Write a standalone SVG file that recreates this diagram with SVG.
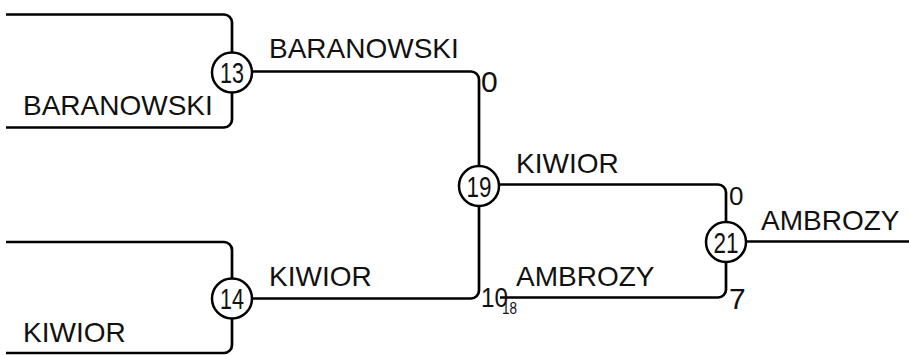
<svg xmlns="http://www.w3.org/2000/svg" width="909" height="355" viewBox="0 0 909 355">
<style>
.ln{fill:none;stroke:#000;stroke-width:2.7;stroke-linecap:butt}
.nd{fill:#fff;stroke:#000;stroke-width:2.5}
.nm{font-family:"Liberation Sans",Arial,sans-serif;font-size:28px;fill:#111}
.num{font-family:"Liberation Sans",Arial,sans-serif;font-size:30px;fill:#111;text-anchor:middle}
.sc{font-family:"Liberation Sans",Arial,sans-serif;font-size:28px;fill:#111}
.sm{font-family:"Liberation Sans",Arial,sans-serif;font-size:17px;fill:#111}
</style>
<rect width="909" height="355" fill="#fff"/>
<g id="connectors">
<path class="ln" d="M6,14.5 H224 A8,8 0 0 1 232,22.5 V52"/>
<path class="ln" d="M6,127.5 H224 A8,8 0 0 0 232,119.5 V92"/>
<path class="ln" d="M6,242 H224 A8,8 0 0 1 232,250 V279"/>
<path class="ln" d="M6,353 H224 A8,8 0 0 0 232,345 V318"/>
<path class="ln" d="M252,71.5 H471 A8,8 0 0 1 479,79.5 V166"/>
<path class="ln" d="M252,298.5 H471 A8,8 0 0 0 479,290.5 V206"/>
<path class="ln" d="M499,184.5 H718 A8,8 0 0 1 726,192.5 V222"/>
<path class="ln" d="M500,297.5 H718 A8,8 0 0 0 726,289.5 V262"/>
<path class="ln" d="M746,241.5 H909"/>
</g>
<g id="node-13">
<circle class="nd" cx="232" cy="72.5" r="20"/>
<text class="num" x="232" y="83" textLength="24" lengthAdjust="spacingAndGlyphs">13</text>
</g>
<g id="node-14">
<circle class="nd" cx="232" cy="298.5" r="20"/>
<text class="num" x="232" y="309" textLength="24" lengthAdjust="spacingAndGlyphs">14</text>
</g>
<g id="node-19">
<circle class="nd" cx="479" cy="186" r="20"/>
<text class="num" x="479" y="196.5" textLength="25" lengthAdjust="spacingAndGlyphs">19</text>
</g>
<g id="node-21">
<circle class="nd" cx="726" cy="242" r="20"/>
<text class="num" x="726" y="252.5" textLength="25" lengthAdjust="spacingAndGlyphs">21</text>
</g>
<g id="labels">
<text class="nm" x="23" y="115">BARANOWSKI</text>
<text class="nm" x="269" y="58">BARANOWSKI</text>
<text class="nm" x="23" y="342">KIWIOR</text>
<text class="nm" x="269" y="286">KIWIOR</text>
<text class="nm" x="516" y="173">KIWIOR</text>
<text class="nm" x="516" y="286">AMBROZY</text>
<text class="nm" x="761" y="230">AMBROZY</text>
<text class="sc" x="481" y="92" style="font-size:30px">0</text>
<text class="sc" x="481" y="307" textLength="27" lengthAdjust="spacingAndGlyphs">10</text>
<text class="sm" x="502" y="314" textLength="15" lengthAdjust="spacingAndGlyphs">18</text>
<text class="sc" x="729" y="205" style="font-size:26px">0</text>
<text class="sc" x="729" y="309" style="font-size:30px">7</text>
</g>
</svg>
